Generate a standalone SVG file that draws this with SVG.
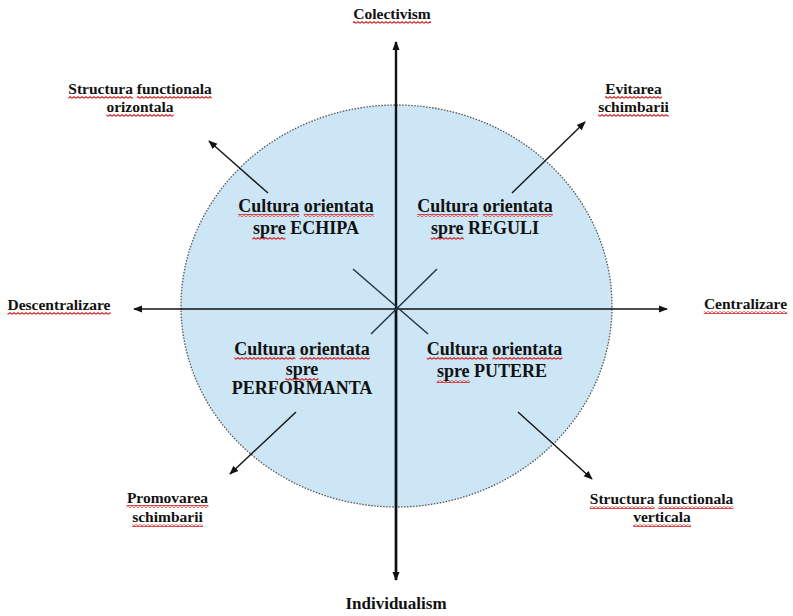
<svg xmlns="http://www.w3.org/2000/svg" width="793" height="616" viewBox="0 0 793 616">
<style>
.lbl{font-family:"Liberation Serif","Times New Roman",serif;font-weight:bold;font-size:15.5px;fill:#111;text-anchor:middle}
.big{font-size:17px}
.in{font-family:"Liberation Serif","Times New Roman",serif;font-weight:bold;font-size:18px;fill:#111;text-anchor:middle}
.ax{stroke:#111;fill:none}
.dg{stroke:#1a1a1a;stroke-width:1.5;fill:none}
.xl{stroke:#1f3a4e;stroke-width:1.5;fill:none}
.wv{fill:url(#wavy)}
</style>
<defs>
<pattern id="wavy" width="4" height="3" patternUnits="userSpaceOnUse">
<path d="M0 2.3 L2 0.7 L4 2.3" stroke="#d42a2a" stroke-width="1.2" fill="none"/>
</pattern>
<marker id="ah" viewBox="0 0 10 10" refX="9" refY="5" markerWidth="9" markerHeight="9" markerUnits="userSpaceOnUse" orient="auto">
<path d="M0 1 L10 5 L0 9 Z" fill="#111"/>
</marker>
</defs>
<rect width="793" height="616" fill="#fff"/>
<g id="circle">
<ellipse cx="396.5" cy="306" rx="215.5" ry="201" fill="#cce6f5" stroke="#555" stroke-width="1.3" stroke-dasharray="1.5 1.5"/>
</g>
<g id="connectors">
<line class="ax" x1="396" y1="580" x2="396" y2="42" stroke-width="2.4" marker-end="url(#ah)"/>
<line class="ax" x1="396" y1="309" x2="396" y2="580" stroke-width="2.4" marker-end="url(#ah)"/>
<line class="ax" x1="396" y1="309" x2="134" y2="309" stroke-width="1.4" marker-end="url(#ah)"/>
<line class="ax" x1="396" y1="309" x2="667" y2="309" stroke-width="1.4" marker-end="url(#ah)"/>
<line class="dg" x1="268" y1="193" x2="209" y2="141" marker-end="url(#ah)"/>
<line class="dg" x1="512" y1="193" x2="585" y2="122" marker-end="url(#ah)"/>
<line class="dg" x1="296" y1="412" x2="230" y2="474" marker-end="url(#ah)"/>
<line class="dg" x1="518" y1="412" x2="592" y2="479" marker-end="url(#ah)"/>
<line class="xl" x1="353" y1="269" x2="428" y2="334"/>
<line class="xl" x1="437" y1="269" x2="371" y2="334"/>
</g>
<g id="colectivism">
<rect class="wv" x="353" y="21" width="78" height="3"/>
<text class="lbl" x="392" y="19">Colectivism</text>
</g>
<g id="individualism">
<text class="lbl big" x="396" y="609">Individualism</text>
</g>
<g id="descentralizare">
<rect class="wv" x="7.5" y="312" width="103" height="3"/>
<text class="lbl" x="59" y="310">Descentralizare</text>
</g>
<g id="centralizare">
<rect class="wv" x="703.7" y="311" width="83.5" height="3"/>
<text class="lbl" x="745.5" y="309">Centralizare</text>
</g>
<g id="structura-orizontala">
<rect class="wv" x="68.3" y="96" width="64.6" height="3"/>
<rect class="wv" x="136.8" y="96" width="74.9" height="3"/>
<rect class="wv" x="106.4" y="114" width="67.2" height="3"/>
<text class="lbl" x="140" y="94">Structura functionala</text>
<text class="lbl" x="140" y="112">orizontala</text>
</g>
<g id="evitarea">
<rect class="wv" x="605.1" y="96" width="56.8" height="3"/>
<rect class="wv" x="598.2" y="114" width="70.6" height="3"/>
<text class="lbl" x="633.5" y="94">Evitarea</text>
<text class="lbl" x="633.5" y="112">schimbarii</text>
</g>
<g id="promovarea">
<rect class="wv" x="126.6" y="505" width="81.8" height="3"/>
<rect class="wv" x="132.2" y="524" width="70.6" height="3"/>
<text class="lbl" x="167.5" y="503">Promovarea</text>
<text class="lbl" x="167.5" y="522">schimbarii</text>
</g>
<g id="structura-verticala">
<rect class="wv" x="589.8" y="506" width="64.6" height="3"/>
<rect class="wv" x="658.3" y="506" width="74.9" height="3"/>
<rect class="wv" x="633.2" y="524" width="57.7" height="3"/>
<text class="lbl" x="661.5" y="504">Structura functionala</text>
<text class="lbl" x="662" y="522">verticala</text>
</g>
<g id="echipa">
<rect class="wv" x="238.3" y="214" width="61" height="3"/>
<rect class="wv" x="303.8" y="214" width="70" height="3"/>
<rect class="wv" x="252.3" y="237" width="33" height="3"/>
<text class="in" x="306" y="212">Cultura orientata</text>
<text class="in" x="306" y="234">spre ECHIPA</text>
</g>
<g id="reguli">
<rect class="wv" x="417.3" y="214" width="61" height="3"/>
<rect class="wv" x="482.8" y="214" width="70" height="3"/>
<rect class="wv" x="430.8" y="237" width="33" height="3"/>
<text class="in" x="485" y="212">Cultura orientata</text>
<text class="in" x="485" y="234">spre REGULI</text>
</g>
<g id="performanta">
<rect class="wv" x="234.3" y="357" width="61" height="3"/>
<rect class="wv" x="299.8" y="357" width="70" height="3"/>
<rect class="wv" x="285.5" y="378" width="33" height="3"/>
<text class="in" x="302" y="355">Cultura orientata</text>
<text class="in" x="302" y="375">spre</text>
<text class="in" x="302" y="394">PERFORMANTA</text>
</g>
<g id="putere">
<rect class="wv" x="426.8" y="357" width="61" height="3"/>
<rect class="wv" x="492.3" y="357" width="70" height="3"/>
<rect class="wv" x="436.8" y="380" width="33" height="3"/>
<text class="in" x="494.5" y="355">Cultura orientata</text>
<text class="in" x="492" y="377">spre PUTERE</text>
</g>
</svg>
